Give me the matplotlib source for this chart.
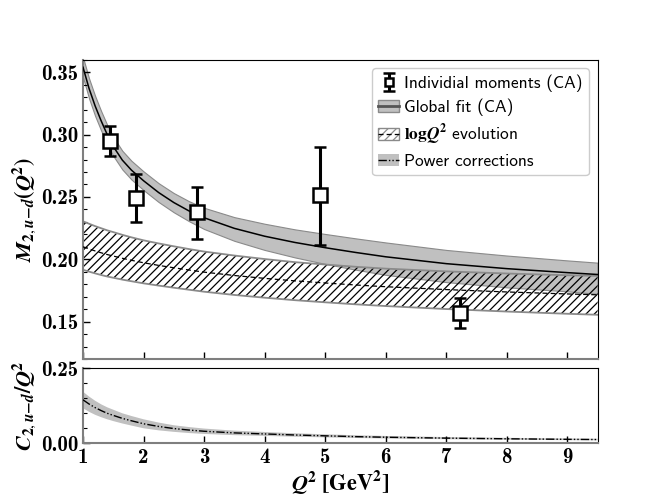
import matplotlib
matplotlib.use("Agg")
import matplotlib.pyplot as plt
from matplotlib.patches import Patch
from matplotlib.lines import Line2D
from matplotlib.legend_handler import HandlerTuple
from matplotlib.ticker import MultipleLocator, FormatStrFormatter

plt.rcParams['mathtext.fontset'] = 'cm'
plt.rcParams['hatch.linewidth'] = 0.9

# individual moments (CA)
pts_q2 = [1.45, 1.88, 2.89, 4.91, 7.22]
pts_m = [0.2946, 0.2495, 0.2378, 0.2515, 0.1570]
pts_err_lo = [0.0120, 0.0195, 0.0217, 0.0397, 0.0123]
pts_err_hi = [0.0121, 0.0187, 0.0205, 0.0385, 0.0118]

# curves
q2 = [1.0, 1.1, 1.2, 1.3, 1.4, 1.5, 1.65, 1.8, 2.0, 2.25, 2.5, 2.75,
      3.0, 3.5, 4.0, 4.5, 5.0, 5.5, 6.0, 7.0, 8.0, 9.0, 9.5]

# global fit (CA)
glob_mid = [0.354, 0.337, 0.323, 0.311, 0.300, 0.2905, 0.2795, 0.2715, 0.263, 0.2535,
            0.2455, 0.2388, 0.2333, 0.2248, 0.2185, 0.2135, 0.2093, 0.2055, 0.2020,
            0.1965, 0.1925, 0.1893, 0.1878]
glob_hi = [0.362, 0.345, 0.331, 0.3188, 0.3077, 0.2981, 0.287, 0.279, 0.2705, 0.261,
           0.2531, 0.2466, 0.2413, 0.2338, 0.2285, 0.224, 0.2203, 0.2168, 0.2135,
           0.2075, 0.203, 0.1991, 0.1973]
glob_lo = [0.346, 0.329, 0.315, 0.3032, 0.2923, 0.2829, 0.272, 0.264, 0.2555, 0.2459,
           0.2377, 0.2306, 0.2243, 0.2148, 0.2075, 0.2015, 0.1963, 0.1917, 0.1875,
           0.1817, 0.1775, 0.1743, 0.1723]

# log Q^2 evolution
log_mid = [0.2100, 0.2083, 0.2067, 0.2052, 0.2038, 0.2026, 0.2008, 0.1992, 0.1972,
           0.1951, 0.1932, 0.1914, 0.1897, 0.1870, 0.1847, 0.1827, 0.1810, 0.1794,
           0.1780, 0.1757, 0.1738, 0.1722, 0.1715]
log_hi = [0.2304, 0.2285, 0.2266, 0.2249, 0.2232, 0.2218, 0.2196, 0.2176, 0.2152,
          0.2127, 0.2104, 0.2082, 0.2062, 0.2030, 0.2002, 0.1977, 0.1958, 0.1940,
          0.1925, 0.1903, 0.1886, 0.1872, 0.1867]
log_lo = [0.1916, 0.1901, 0.1887, 0.1874, 0.1862, 0.1852, 0.1837, 0.1824, 0.1807,
          0.1789, 0.1772, 0.1756, 0.1740, 0.1714, 0.1692, 0.1672, 0.1655, 0.1639,
          0.1625, 0.1601, 0.1581, 0.1563, 0.1555]

# power corrections C/Q^2
pow_mid = [0.145, 0.131, 0.119, 0.109, 0.100, 0.093, 0.083, 0.075, 0.065, 0.056, 0.049,
           0.044, 0.040, 0.0345, 0.031, 0.0275, 0.0247, 0.022, 0.020, 0.017, 0.0148,
           0.013, 0.0123]
pow_hi = [0.172, 0.156, 0.142, 0.130, 0.120, 0.112, 0.100, 0.091, 0.080, 0.069, 0.060,
          0.054, 0.049, 0.042, 0.0375, 0.0332, 0.0298, 0.0266, 0.0242, 0.0206, 0.018,
          0.0159, 0.015]
pow_lo = [0.117, 0.105, 0.095, 0.087, 0.080, 0.074, 0.066, 0.059, 0.050, 0.043, 0.038,
          0.034, 0.031, 0.027, 0.0245, 0.0218, 0.0196, 0.0175, 0.0159, 0.0135, 0.0117,
          0.0102, 0.0097]

band_grey = '#c0c0c0'
edge_grey = '#8a8a8a'
spine_grey = '#7f7f7f'
dash = (0, (4, 2.5))
dashdot = (0, (6, 1.5, 1, 1.5, 1, 1.5))

fig = plt.figure(figsize=(6.64, 4.98), dpi=100)
gs = fig.add_gridspec(2, 1, height_ratios=[4, 1], hspace=0.05,
                      left=0.125, right=0.9, top=0.88, bottom=0.11)
ax = fig.add_subplot(gs[0])
ax2 = fig.add_subplot(gs[1], sharex=ax)

# top panel
ax.fill_between(q2, glob_lo, glob_hi, facecolor=band_grey, edgecolor=edge_grey, lw=0.8, zorder=1)
ax.plot(q2, glob_mid, color='k', lw=1.1, zorder=3)
ax.fill_between(q2, log_lo, log_hi, facecolor='none', edgecolor='k', hatch='////', lw=0, zorder=2)
ax.plot(q2, log_hi, color=edge_grey, lw=1.3, zorder=2)
ax.plot(q2, log_lo, color=edge_grey, lw=1.3, zorder=2)
ax.plot(q2, log_mid, color='k', lw=0.9, ls=dash, zorder=3)
eb = ax.errorbar(pts_q2, pts_m, yerr=[pts_err_lo, pts_err_hi], fmt='s', ms=10,
                 mfc='white', mec='k', mew=1.8, ecolor='k', elinewidth=2.2,
                 capsize=4.5, capthick=2.2, zorder=5)

ax.set_ylim(0.12, 0.36)
ax.set_xlim(1, 9.5)
ax.yaxis.set_major_locator(MultipleLocator(0.05))
ax.yaxis.set_minor_locator(MultipleLocator(0.01))
ax.yaxis.set_major_formatter(FormatStrFormatter('%.2f'))
ax.set_ylabel(r'$\mathbfit{M}_{\mathbf{2},\mathbfit{u}\mathbf{-}\mathbfit{d}}'
              r'\mathbf{(}\mathbfit{Q}^\mathbf{2}\mathbf{)}$',
              fontsize=16, labelpad=2, math_fontfamily='stix')
ax.tick_params(axis='x', labelbottom=False)

# bottom panel
ax2.fill_between(q2, pow_lo, pow_hi, facecolor=band_grey, edgecolor='none', zorder=1)
ax2.plot(q2, pow_mid, color='k', lw=1.0, ls=dashdot, zorder=3)
ax2.set_ylim(0, 0.25)
ax2.set_yticks([0, 0.25])
ax2.yaxis.set_minor_locator(MultipleLocator(0.05))
ax2.yaxis.set_major_formatter(FormatStrFormatter('%.2f'))
ax2.xaxis.set_major_locator(MultipleLocator(1))
ax2.xaxis.set_major_formatter(FormatStrFormatter('%d'))
ax2.set_ylabel(r'$\mathbfit{C}_{\mathbf{2},\mathbfit{u}\mathbf{-}\mathbfit{d}}'
               r'\mathbf{/}\mathbfit{Q}^\mathbf{2}$',
               fontsize=16, labelpad=2, math_fontfamily='stix')
ax2.set_xlabel(r'$\mathbfit{Q}^\mathbf{2}\ \mathbf{[GeV^2]}$', fontsize=16, labelpad=1,
               math_fontfamily='stix')

for a in (ax, ax2):
    a.tick_params(which='both', direction='in', labelsize=15, top=False, right=False)
    a.tick_params(which='major', length=5, width=1)
    a.tick_params(which='minor', length=3, width=0.8)
    a.spines['left'].set_color(spine_grey)
    a.spines['bottom'].set_color(spine_grey)
    a.spines['left'].set_linewidth(1.5)
    a.spines['bottom'].set_linewidth(1.5)

handles = [
    eb,
    (Patch(facecolor=band_grey, edgecolor=edge_grey), Line2D([], [], color='#555555', lw=2)),
    (Patch(facecolor='white', edgecolor=edge_grey, hatch='////'),
     Line2D([], [], color='k', lw=0.9, ls=dash)),
    (Patch(facecolor=band_grey, edgecolor='none'),
     Line2D([], [], color='k', lw=1.0, ls=dashdot)),
]
labels = ['Individial moments (CA)', 'Global fit (CA)',
          r'$\mathbf{log}\mathbfit{Q}^\mathbf{2}$ evolution', 'Power corrections']
leg = ax.legend(handles, labels, loc='upper right', prop={'family': 'cmss10', 'size': 12.5},
                handler_map={tuple: HandlerTuple(ndivide=1, pad=0)},
                handlelength=1.2, handletextpad=0.3, labelspacing=0.38,
                borderpad=0.35, framealpha=1, edgecolor='#cccccc', fancybox=True,
                markerscale=0.6)
leg.get_texts()[2].set_math_fontfamily('stix')

for lab in ax.get_yticklabels() + ax2.get_yticklabels() + ax2.get_xticklabels():
    lab.set_fontfamily('cmb10')

fig.savefig('out.png', dpi=100)
